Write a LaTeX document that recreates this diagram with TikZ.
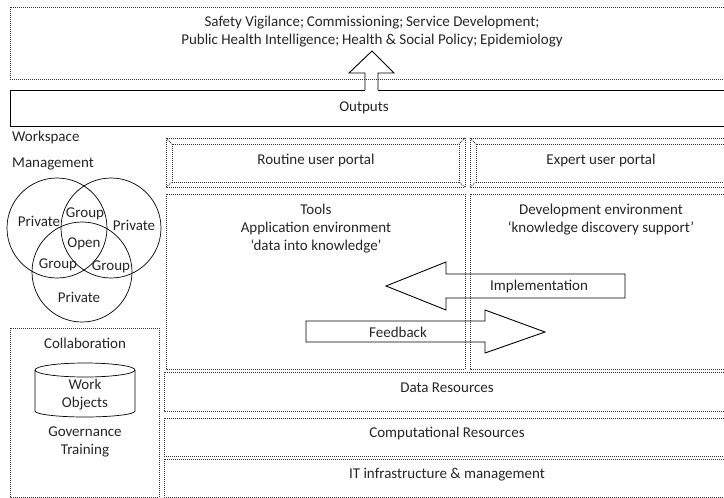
\documentclass[tikz,border=0pt]{standalone}
\usepackage{fontspec}
\setmainfont{Carlito}
\newcommand{\semi}{;\hspace{0.18em}}
\tikzset{
  x=1pt,y=-1pt,
  dotbox/.style={draw=black!80,dash pattern=on 1pt off 1pt,line width=0.8pt},
  solidbox/.style={draw=black,line width=0.9pt},
  label/.style={font=\fontsize{15}{18}\selectfont,align=center,inner sep=0pt,text=black!85,yshift=-1pt},
  thin line/.style={draw=black,line width=0.7pt}
}
\begin{document}
\begin{tikzpicture}
\useasboundingbox (0,0) rectangle (724,498);
% outputs box, its top edge open where the arrow leaves
\draw[solidbox] (365,90) -- (10,90) -- (10,126) -- (724,126);
\draw[solidbox] (378,90) -- (724,90);
\node[label] (outputs) at (364,107) {Outputs};
% up arrow
\draw[solidbox,line join=miter] (365,90) -- (365,73) -- (349,73) -- (372,51) -- (394,73) -- (378,73) -- (378,90);
% dotted boxes
\draw[dotbox] (10,7) rectangle (724,79);
\draw[dotbox] (166,138) rectangle (465,187);
\draw[dotbox] (172,144) rectangle (459,182);
\draw[dotbox] (166,138) -- (172,144) (166,187) -- (172,182) (465,138) -- (459,144) (465,187) -- (459,182);
\draw[dotbox] (470,138) rectangle (724,187);
\draw[dotbox] (724,144) -- (476,144) -- (476,182) -- (724,182);
\draw[dotbox] (470,138) -- (476,144) (470,187) -- (476,182);
\draw[dotbox] (166,194) rectangle (465,369);
\draw[dotbox] (724,194) -- (470,194) -- (470,369) -- (724,369);
\draw[dotbox] (164,372) rectangle (724,411);
\draw[dotbox] (164,418) rectangle (724,456);
\draw[dotbox] (164,459) rectangle (724,497);
\draw[dotbox] (10,328) rectangle (159,497);
% texts
\node[label] (top) at (372,31) {Safety Vigilance\semi Commissioning\semi Service Development;\\Public Health Intelligence\semi Health \& Social Policy\semi Epidemiology};
\node[label,anchor=west] (ws) at (12,136) {Workspace};
\node[label,anchor=west] (mg) at (12,163) {Management};
\node[label] (rp) at (316,159) {Routine user portal};
\node[label] (ep) at (601,159) {Expert user portal};
\node[label] (tools) at (316,228) {Tools\\Application environment\\‘data into knowledge’};
\node[label] (dev) at (601,219) {Development environment\\‘knowledge discovery support’};
\node[label] (dr) at (447,387) {Data Resources};
\node[label] (cr) at (447,432) {Computational Resources};
\node[label] (it) at (447,474) {IT infrastructure \& management};
% venn
\node[thin line,circle,minimum size=100,inner sep=0pt] (c1) at (57,228) {};
\node[thin line,circle,minimum size=100,inner sep=0pt] (c2) at (111,228) {};
\node[thin line,circle,minimum size=100,inner sep=0pt] (c3) at (82,272) {};
\node[label] (p1) at (39,220) {Private};
\node[label] (p2) at (134,224) {Private};
\node[label] (g1) at (85,213) {Group};
\node[label] (op) at (84,243) {Open};
\node[label] (g2) at (58,264) {Group};
\node[label] (g3) at (111,266) {Group};
\node[label] (p3) at (79,296) {Private};
% collaboration
\node[label] (co) at (85,342) {Collaboration};
\draw[thin line] (35,370) -- (35,411) arc[start angle=180,end angle=360,x radius=50,y radius=-6]  -- (135,370);
\draw[thin line] (85,370) ellipse[x radius=50,y radius=7];
\node[label] (wo) at (85,394) {Work\\Objects};
\node[label] (gt) at (85,441) {Governance\\Training};
% arrows
\draw[solidbox] (625,274) -- (446,274) -- (446,262) -- (386,286) -- (446,310) -- (446,298) -- (625,298) -- cycle;
\node[label] (im) at (539,285) {Implementation};
\draw[solidbox] (306,321) -- (485,321) -- (485,310) -- (545,332) -- (485,353) -- (485,342) -- (306,342) -- cycle;
\node[label] (fb) at (398,331) {Feedback};
\end{tikzpicture}
\end{document}
